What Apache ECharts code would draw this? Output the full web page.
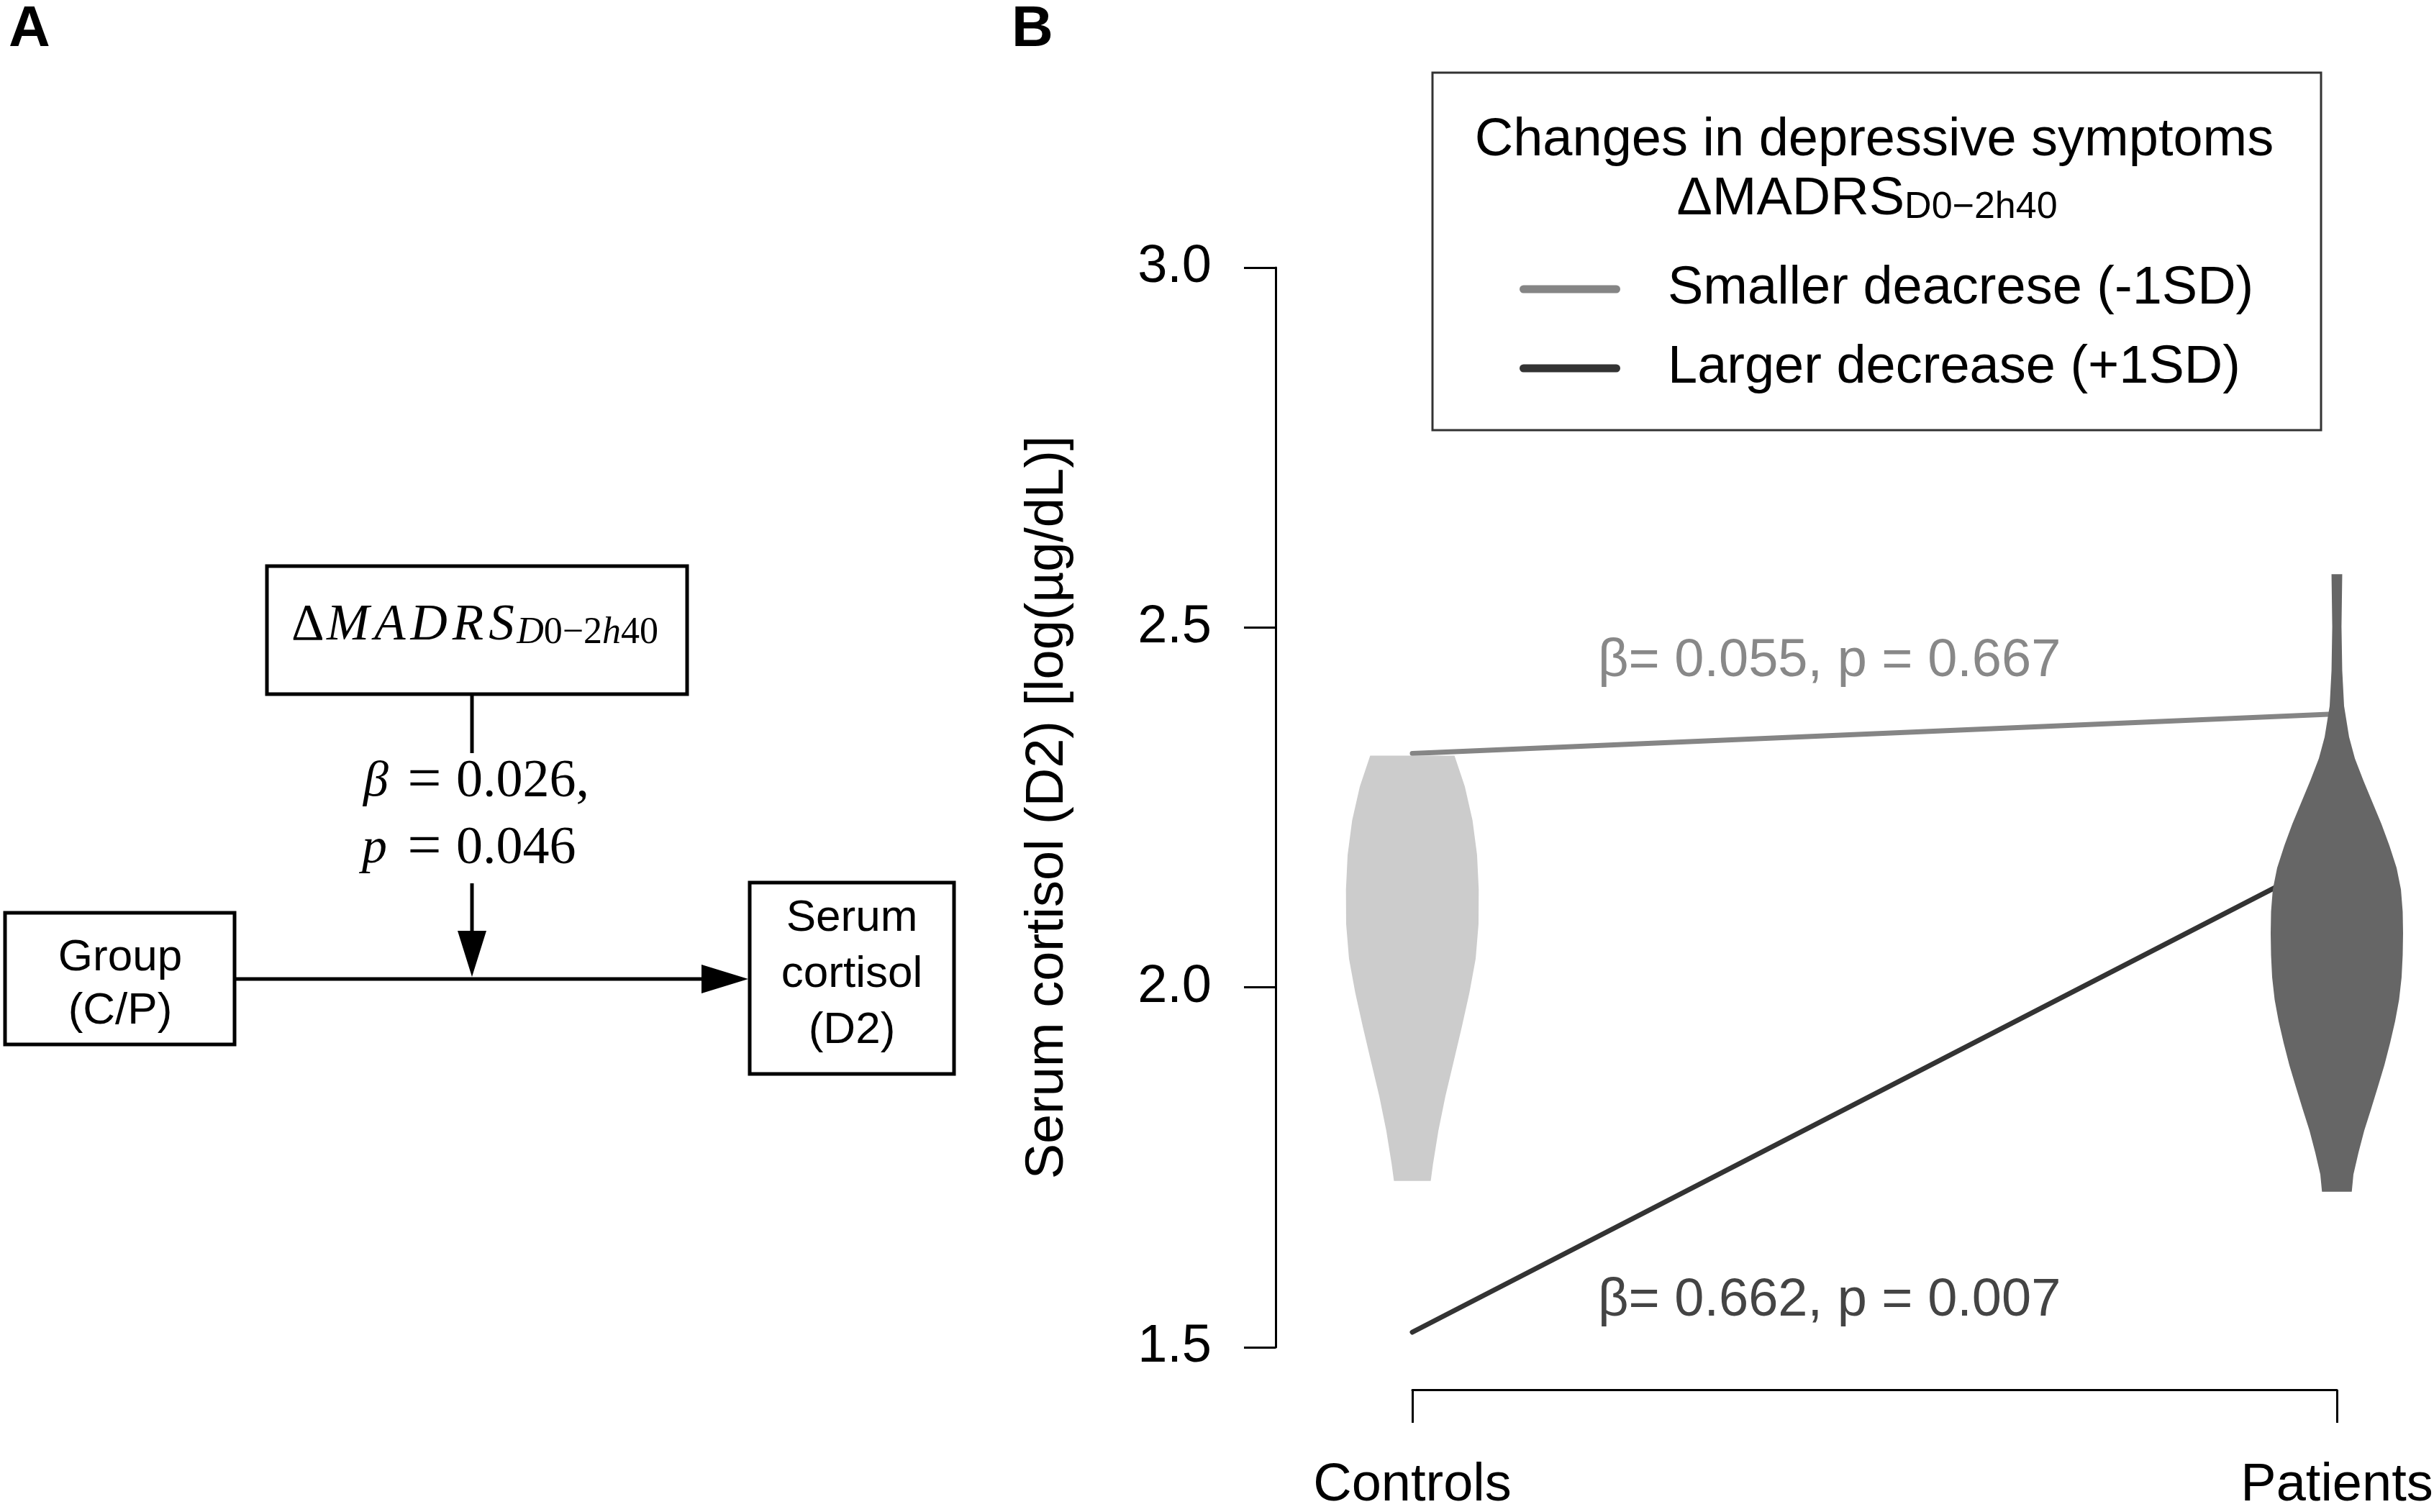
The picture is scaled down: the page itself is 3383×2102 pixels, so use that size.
<!DOCTYPE html>
<html>
<head>
<meta charset="utf-8">
<script src="https://cdn.jsdelivr.net/npm/echarts@6/dist/echarts.min.js"></script>
<style>html,body{margin:0;padding:0;background:#fff}#chart{width:3383px;height:2102px}</style>
</head>
<body>
<div id="chart"></div>
<script>
// ---------- data ----------
const categories = ['Controls', 'Patients'];
const yMin = 1.5, yMax = 3.0, yStep = 0.5;
const yAxisTitle = 'Serum cortisol (D2) [log(\u00b5g/dL)]';
const lineNames = ['Smaller deacrese (-1SD)', 'Larger decrease (+1SD)'];
const smallerDecrease = [2.325, 2.380];   // -1SD, Controls -> Patients
const largerDecrease  = [1.521, 2.183];   // +1SD, Controls -> Patients
const annotations = ['\u03b2= 0.055, p = 0.667', '\u03b2= 0.662, p = 0.007'];

// violin profiles: y value and half width (x-axis units)
const controlsY = [2.322, 2.279, 2.232, 2.184, 2.136, 2.088, 2.040, 1.993, 1.945, 1.897, 1.849, 1.801, 1.754, 1.731];
const controlsHalfWidth = [0.0456, 0.0568, 0.0651, 0.0700, 0.0718, 0.0716, 0.0685, 0.0618, 0.0535, 0.0447, 0.0358, 0.0282, 0.0223, 0.0199];
const patientsY = [2.574, 2.501, 2.440, 2.391, 2.348, 2.318, 2.287, 2.257, 2.227, 2.197, 2.166, 2.136, 2.105, 2.075, 2.045, 2.014, 1.983, 1.953, 1.923, 1.892, 1.862, 1.831, 1.801, 1.770, 1.740, 1.716];
const patientsHalfWidth = [0.0058, 0.0050, 0.0058, 0.0078, 0.0132, 0.0195, 0.0288, 0.0385, 0.0482, 0.0568, 0.0646, 0.0693, 0.0712, 0.0716, 0.0712, 0.0700, 0.0673, 0.0630, 0.0576, 0.0514, 0.0444, 0.0370, 0.0296, 0.0233, 0.0179, 0.0161];

// panel A texts
const modBetaLabel = '0.026,';
const modPLabel = '0.046';
const groupLabel = 'Group\n(C/P)';
const outcomeLabel = 'Serum\ncortisol\n(D2)';
const legendTitle = 'Changes in depressive symptoms';

// ---------- chart ----------
const SANS = 'Liberation Sans, Arial, Helvetica, sans-serif';
const SERIF = 'Liberation Serif, Times New Roman, serif';
const violins = [
  { y: controlsY, hw: controlsHalfWidth, color: '#cccccc' },
  { y: patientsY, hw: patientsHalfWidth, color: '#666666' }
];

function renderViolin(params, api) {
  const v = violins[params.dataIndex];
  const xc = api.value(0);
  const pts = [];
  for (let i = 0; i < v.y.length; i++) pts.push(api.coord([xc + v.hw[i], v.y[i]]));
  for (let i = v.y.length - 1; i >= 0; i--) pts.push(api.coord([xc - v.hw[i], v.y[i]]));
  return { type: 'polygon', shape: { points: pts }, style: { fill: v.color } };
}

const chart = echarts.init(document.getElementById('chart'), null, { renderer: 'canvas', width: 3383, height: 2102 });

const boxStyle = { fill: 'none', stroke: '#000', lineWidth: 5 };
const connStyle = { stroke: '#000', lineWidth: 5 };

const option = {
  animation: false,
  backgroundColor: '#ffffff',
  textStyle: { fontFamily: SANS },
  grid: { left: 1963, right: 135, top: 372, bottom: 229, containLabel: false, outerBoundsMode: 'none' },
  xAxis: {
    type: 'value', min: 1, max: 2, interval: 1, offset: 59,
    axisLine: { show: true, lineStyle: { color: '#000', width: 3 } },
    axisTick: { show: true, length: 46, lineStyle: { color: '#000', width: 3 } },
    axisLabel: { show: true, margin: 97, fontSize: 74, lineHeight: 74, color: '#000', fontFamily: SANS,
      showMinLabel: true, showMaxLabel: true, formatter: v => categories[Math.round(v) - 1] || '' },
    splitLine: { show: false }
  },
  yAxis: {
    type: 'value', min: yMin, max: yMax, interval: yStep, offset: 190,
    name: yAxisTitle, nameLocation: 'middle', nameGap: 279, nameRotate: 90,
    nameTextStyle: { fontSize: 74, lineHeight: 74, color: '#000', fontFamily: SANS },
    axisLine: { show: true, lineStyle: { color: '#000', width: 3 } },
    axisTick: { show: true, length: 44, lineStyle: { color: '#000', width: 3 } },
    axisLabel: { show: true, margin: 89, fontSize: 74, color: '#000', fontFamily: SANS, formatter: v => v.toFixed(1) },
    splitLine: { show: false }
  },
  legend: {
    data: lineNames, orient: 'vertical', left: 2112, top: 365,
    itemWidth: 140, itemHeight: 11, itemGap: 36, padding: 0, selectedMode: false,
    icon: 'path://M5.5,0H134.5A5.5,5.5,0,0,1,134.5,11H5.5A5.5,5.5,0,0,1,5.5,0Z',
    textStyle: { fontSize: 74, lineHeight: 74, color: '#000', fontFamily: SANS, padding: [0, 0, 0, 61] }
  },
  series: [
    { type: 'line', name: lineNames[0], data: smallerDecrease.map((v, i) => [i + 1, v]),
      symbol: 'none', showSymbol: false, silent: true, z: 2,
      lineStyle: { color: '#858585', width: 7, cap: 'round' }, itemStyle: { color: '#858585' } },
    { type: 'line', name: lineNames[1], data: largerDecrease.map((v, i) => [i + 1, v]),
      symbol: 'none', showSymbol: false, silent: true, z: 2,
      lineStyle: { color: '#333333', width: 7, cap: 'round' }, itemStyle: { color: '#333333' } },
    { type: 'custom', name: 'violins', data: violins.map((v, i) => [i + 1, v.y[0]]),
      renderItem: renderViolin, clip: false, silent: true, z: 5 }
  ],
  graphic: { elements: [
    // panel labels
    { type: 'text', x: 12, y: 2, style: { text: 'A', fontSize: 80, fontWeight: 'bold', fontFamily: SANS, fill: '#000', verticalAlign: 'top', lineHeight: 80 } },
    { type: 'text', x: 1406, y: 2, style: { text: 'B', fontSize: 80, fontWeight: 'bold', fontFamily: SANS, fill: '#000', verticalAlign: 'top', lineHeight: 80 } },
    // panel A: boxes
    { type: 'rect', shape: { x: 371, y: 787, width: 584, height: 178 }, style: boxStyle },
    { type: 'rect', shape: { x: 7, y: 1269, width: 319, height: 183 }, style: boxStyle },
    { type: 'rect', shape: { x: 1042, y: 1227, width: 284, height: 266 }, style: boxStyle },
    // moderator label
    { type: 'text', x: 660, y: 870.7, style: {
      text: '{d|\u0394}{i|M}{i|A}{i|D}{i|R}{i|S}{si|D}{s|0\u22122}{si|h}{s|40}',
      align: 'center', verticalAlign: 'middle', fill: '#000',
      rich: {
        d: { fontFamily: SERIF, fontSize: 71, lineHeight: 71, verticalAlign: 'bottom', fill: '#000' },
        i: { fontFamily: SERIF, fontStyle: 'italic', fontSize: 71, lineHeight: 71, verticalAlign: 'bottom', padding: [0, 3.5, 0, 3.5], fill: '#000' },
        si: { fontFamily: SERIF, fontStyle: 'italic', fontSize: 52, lineHeight: 33, verticalAlign: 'bottom', fill: '#000' },
        s: { fontFamily: SERIF, fontSize: 52, lineHeight: 33, verticalAlign: 'bottom', fill: '#000' }
      } } },
    // connectors
    { type: 'line', shape: { x1: 656, y1: 965, x2: 656, y2: 1047 }, style: connStyle },
    { type: 'line', shape: { x1: 656, y1: 1228, x2: 656, y2: 1298 }, style: connStyle },
    { type: 'polygon', shape: { points: [[636, 1294], [676, 1294], [656, 1358]] }, style: { fill: '#000' } },
    { type: 'line', shape: { x1: 326, y1: 1361, x2: 980, y2: 1361 }, style: connStyle },
    { type: 'polygon', shape: { points: [[975, 1341], [975, 1381], [1040, 1361]] }, style: { fill: '#000' } },
    // moderation stats
    { type: 'text', x: 505, y: 1087.5, style: { text: '\u03b2', fontFamily: SERIF, fontStyle: 'italic', fontSize: 70, fill: '#000', verticalAlign: 'middle' } },
    { type: 'text', x: 590, y: 1087.5, style: { text: '=', fontFamily: SERIF, fontSize: 84, fill: '#000', align: 'center', verticalAlign: 'middle' } },
    { type: 'text', x: 634, y: 1087.5, style: { text: modBetaLabel, fontFamily: SERIF, fontSize: 74, fill: '#000', verticalAlign: 'middle' } },
    { type: 'text', x: 503, y: 1181, style: { text: 'p', fontFamily: SERIF, fontStyle: 'italic', fontSize: 70, fill: '#000', verticalAlign: 'middle' } },
    { type: 'text', x: 590, y: 1181, style: { text: '=', fontFamily: SERIF, fontSize: 84, fill: '#000', align: 'center', verticalAlign: 'middle' } },
    { type: 'text', x: 634, y: 1181, style: { text: modPLabel, fontFamily: SERIF, fontSize: 74, fill: '#000', verticalAlign: 'middle' } },
    // box texts
    { type: 'text', x: 167, y: 1369, style: { text: groupLabel, fontFamily: SANS, fontSize: 62, lineHeight: 73.5, fill: '#000', align: 'center', verticalAlign: 'middle' } },
    { type: 'text', x: 1184, y: 1355, style: { text: outcomeLabel, fontFamily: SANS, fontSize: 62, lineHeight: 78, fill: '#000', align: 'center', verticalAlign: 'middle' } },
    // panel B legend box and title
    { type: 'rect', shape: { x: 1991, y: 101, width: 1235, height: 497 }, style: { fill: 'none', stroke: '#333', lineWidth: 3 }, z: 0 },
    { type: 'text', x: 2605, y: 195.4, style: { text: legendTitle, fontFamily: SANS, fontSize: 74, fill: '#000', align: 'center', verticalAlign: 'middle' } },
    { type: 'text', x: 2595, y: 277.4, style: {
      text: '{m|\u0394MADRS}{s|D0\u22122h40}', align: 'center', verticalAlign: 'middle', fill: '#000',
      rich: {
        m: { fontFamily: SANS, fontSize: 74, lineHeight: 74, verticalAlign: 'bottom', fill: '#000' },
        s: { fontFamily: SANS, fontSize: 52, lineHeight: 27, verticalAlign: 'bottom', fill: '#000' }
      } } },
    // slope annotations
    { type: 'text', x: 2221, y: 920, style: { text: annotations[0], fontFamily: SANS, fontSize: 74, fill: '#888888', verticalAlign: 'middle' } },
    { type: 'text', x: 2221, y: 1809, style: { text: annotations[1], fontFamily: SANS, fontSize: 74, fill: '#444444', verticalAlign: 'middle' } }
  ] }
};
chart.setOption(option);
</script>
</body>
</html>
